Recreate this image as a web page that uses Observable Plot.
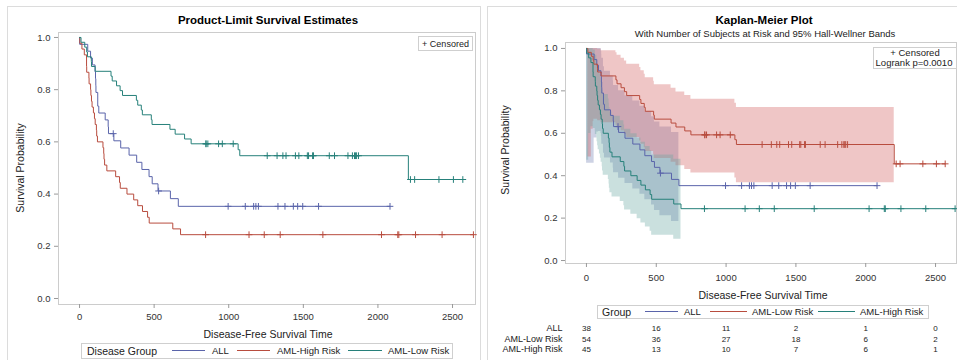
<!DOCTYPE html>
<html><head><meta charset="utf-8">
<script src="https://cdn.jsdelivr.net/npm/d3@7"></script>
<script src="https://cdn.jsdelivr.net/npm/@observablehq/plot@0.6"></script>
<style>
body{margin:0;background:#fff;}
#wrap{position:relative;width:957px;height:360px;overflow:hidden;font-family:Arial,"Liberation Sans",sans-serif;color:#222;}
.abs{position:absolute;white-space:nowrap;line-height:1;}
.c{transform:translate(-50%,-50%);}
.l{transform:translate(0,-50%);}
.box{position:absolute;border:1px solid #cfcfcf;box-sizing:border-box;background:#fff;}
.panel{position:absolute;border:1px solid #dcdcdc;box-sizing:border-box;}
.ln{position:absolute;height:0;}
svg{position:absolute;overflow:visible;}
</style></head>
<body><div id="wrap"></div>
<script>
// ---- data (sashelp.BMT: disease-free survival time, status 1 = event, 0 = censored)
const groupNames = ["ALL", "AML-Low Risk", "AML-High Risk"];
const allTime = [2081,1602,1496,1462,1433,1377,1330,996,226,1199,1111,530,1182,1167,418,383,276,104,609,172,487,662,194,230,526,122,129,74,122,86,466,192,109,55,1,107,110,332];
const allStatus = [0,0,0,0,0,0,0,0,0,0,0,0,0,0,1,1,1,1,1,1,1,1,1,1,1,1,1,1,1,1,1,1,1,1,1,1,1,1];
const lowTime = [2569,2506,2409,2218,1857,1829,1562,1470,1363,1030,860,1258,2246,1870,1799,1709,1674,1568,1527,1324,957,932,847,848,1850,1843,1535,1447,1384,414,2204,1063,481,105,641,390,288,421,79,748,486,48,272,1074,381,10,53,80,35,248,704,211,219,606];
const lowStatus = [0,0,0,0,0,0,0,0,0,0,0,0,0,0,0,0,0,0,0,0,0,0,0,0,0,0,0,0,0,1,1,1,1,1,1,1,1,1,1,1,1,1,1,1,1,1,1,1,1,1,1,1,1,1];
const highTime = [2640,2430,2252,2140,2133,1238,1631,2024,1345,1136,845,422,162,84,100,2,47,242,456,268,318,32,467,47,390,183,105,115,164,93,120,80,677,64,168,74,16,157,625,48,273,63,76,113,363];
const highStatus = [0,0,0,0,0,0,0,0,0,0,0,1,1,1,1,1,1,1,1,1,1,1,1,1,1,1,1,1,1,1,1,1,1,1,1,1,1,1,1,1,1,1,1,1,1];
const leftOrder = ["ALL", "AML-High Risk", "AML-Low Risk"];
const rightOrder = ["ALL", "AML-Low Risk", "AML-High Risk"];
const xTicks = [0, 500, 1000, 1500, 2000, 2500];
const yTicks = [0, 0.2, 0.4, 0.6, 0.8, 1.0];
const atRiskAll = [38, 16, 11, 2, 1, 0];
const atRiskLow = [54, 36, 27, 18, 6, 2];
const atRiskHigh = [45, 13, 10, 7, 6, 1];
const hwCritical = 1.31;

// ---- styles
const lineColors = ["#5a64aa", "#b84c3e", "#26807a"];
const bandColors = ["#6f7eb3", "#d05b5b", "#66a5a0"];
const FONT = 'Arial,"Liberation Sans",sans-serif';

const raw = {
  "ALL": [allTime, allStatus],
  "AML-Low Risk": [lowTime, lowStatus],
  "AML-High Risk": [highTime, highStatus]
};

// Kaplan-Meier estimate with Hall-Wellner (arcsine-sqrt) band
function km(times, status) {
  const n = times.length;
  const ut = Array.from(new Set(times)).sort((a, b) => a - b);
  let S = 1, Y = n, sig = 0;
  const steps = [{t: 0, S: 1}], cens = [], band = [];
  for (const t of ut) {
    let d = 0, c = 0;
    times.forEach((v, i) => { if (v === t) { if (status[i]) d++; else c++; } });
    if (d > 0) {
      S *= (1 - d / Y);
      if (Y > d) sig += d / (Y * (Y - d));
      steps.push({t, S});
      const k = hwCritical * (1 + n * sig) / (2 * Math.sqrt(n)) * Math.sqrt(S / (1 - S));
      const a = Math.asin(Math.sqrt(S));
      band.push({t, lo: Math.sin(Math.max(0, a - k)) ** 2, hi: Math.sin(Math.min(Math.PI / 2, a + k)) ** 2});
    }
    for (let j = 0; j < c; j++) cens.push({t, S});
    Y -= d + c;
  }
  steps.push({t: d3.max(times), S});
  return {steps, cens, band};
}
const est = {};
for (const g of groupNames) est[g] = km(raw[g][0], raw[g][1]);

const wrap = document.getElementById("wrap");
function add(html, x, y, cls, style) {
  const e = document.createElement("div");
  e.className = "abs " + (cls || "");
  e.style.left = x + "px"; e.style.top = y + "px";
  if (style) e.style.cssText += style;
  e.innerHTML = html;
  wrap.appendChild(e);
  return e;
}
function box(x, y, w, h, cls) {
  const e = document.createElement("div");
  e.className = cls || "box";
  e.style.left = x + "px"; e.style.top = y + "px"; e.style.width = w + "px"; e.style.height = h + "px";
  wrap.appendChild(e);
  return e;
}
function lineSample(x1, x2, y, color) {
  const e = document.createElement("div");
  e.className = "ln";
  e.style.left = x1 + "px"; e.style.top = y + "px"; e.style.width = (x2 - x1) + "px";
  e.style.borderTop = "1px solid " + color;
  wrap.appendChild(e);
}

// panel frames
box(7, 6, 474, 400, "panel");
box(487, 6, 480, 400, "panel");

const fmtX = d3.format("d");
const fmtY = d3.format(".1f");

// ---- left plot
{
  const marks = [Plot.frame({stroke: "#cccccc"})];
  leftOrder.forEach((g, i) => {
    marks.push(Plot.line(est[g].steps, {x: "t", y: "S", curve: "step-after", stroke: lineColors[i], strokeWidth: 1}));
    marks.push(Plot.dot(est[g].cens, {x: "t", y: "S", symbol: "plus", r: 2.3, stroke: lineColors[i], strokeWidth: 1}));
  });
  marks.push(Plot.axisX({ticks: xTicks, tickSize: 4, tickPadding: 5, tickFormat: fmtX, stroke: "#999", fill: "#333", label: null}));
  marks.push(Plot.axisY({ticks: yTicks, tickSize: 4, tickPadding: 4, tickFormat: fmtY, stroke: "#999", fill: "#333", label: null}));
  const p = Plot.plot({
    width: 480, height: 340,
    marginLeft: 58, marginRight: 5, marginTop: 32, marginBottom: 36,
    x: {domain: [-141, 2654]},
    y: {domain: [-0.023, 1.019]},
    style: {fontFamily: FONT, fontSize: "9.5px", background: "transparent", overflow: "visible"},
    marks
  });
  p.style.left = "0px"; p.style.top = "0px";
  wrap.appendChild(p);
}

add("Product-Limit Survival Estimates", 268, 21, "c", "font-weight:bold;font-size:11.5px;color:#000;");
add("Survival Probability", 20, 168, "", "font-size:10.5px;transform:translate(-50%,-50%) rotate(-90deg);");
add("Disease-Free Survival Time", 268, 334, "c", "font-size:10.5px;");
box(418, 36, 55, 15);
add("+ Censored", 445.5, 43.5, "c", "font-size:9px;");
box(81, 343, 372, 16);
add("Disease Group", 87, 351, "l", "font-size:10.5px;");
lineSample(172, 205, 350, lineColors[0]); add(leftOrder[0], 212, 351, "l", "font-size:9.5px;");
lineSample(237, 270, 350, lineColors[1]); add(leftOrder[1], 277, 351, "l", "font-size:9.5px;");
lineSample(348, 382, 350, lineColors[2]); add(leftOrder[2], 388, 351, "l", "font-size:9.5px;");

// ---- right plot
{
  const marks = [Plot.frame({stroke: "#cccccc"})];
  rightOrder.forEach((g, i) => {
    marks.push(Plot.areaY(est[g].band, {x: "t", y1: "lo", y2: "hi", curve: "step-after", fill: bandColors[i], fillOpacity: 0.35}));
  });
  rightOrder.forEach((g, i) => {
    marks.push(Plot.line(est[g].steps, {x: "t", y: "S", curve: "step-after", stroke: lineColors[i], strokeWidth: 1}));
    marks.push(Plot.dot(est[g].cens, {x: "t", y: "S", symbol: "plus", r: 2.3, stroke: lineColors[i], strokeWidth: 1}));
  });
  marks.push(Plot.axisX({ticks: xTicks, tickSize: 4, tickPadding: 7, tickFormat: fmtX, stroke: "#999", fill: "#333", label: null}));
  marks.push(Plot.axisY({ticks: yTicks, tickSize: 4, tickPadding: 4, tickFormat: fmtY, stroke: "#999", fill: "#333", label: null}));
  const rows = [[rightOrder[0], atRiskAll, 67], [rightOrder[1], atRiskLow, 78], [rightOrder[2], atRiskHigh, 88]];
  for (const [name, vals, dy] of rows) {
    marks.push(Plot.text(xTicks, {x: d => d, text: (d, i) => String(vals[i]), frameAnchor: "bottom", dy, fontSize: 8, fill: "#222"}));
    marks.push(Plot.text([name], {text: d => d, frameAnchor: "bottom-left", textAnchor: "end", dx: -3, dy, fontSize: 9, fill: "#222"}));
  }
  const p = Plot.plot({
    width: 477, height: 360,
    marginLeft: 85, marginRight: 1, marginTop: 42, marginBottom: 97,
    x: {domain: [-150, 2650]},
    y: {domain: [-0.014, 1.028]},
    style: {fontFamily: FONT, fontSize: "9.5px", background: "transparent", overflow: "visible"},
    marks
  });
  p.style.left = "480px"; p.style.top = "0px";
  wrap.appendChild(p);
}

add("Kaplan-Meier Plot", 764, 21, "c", "font-weight:bold;font-size:11.5px;color:#000;");
add("With Number of Subjects at Risk and 95% Hall-Wellner Bands", 765, 34, "c", "font-size:9.5px;");
add("Survival Probability", 505, 150, "", "font-size:10.5px;transform:translate(-50%,-50%) rotate(-90deg);");
add("Disease-Free Survival Time", 763, 295, "c", "font-size:10.5px;");
box(873, 47, 84, 22);
add("+ Censored", 915, 52.5, "c", "font-size:9.5px;");
add("Logrank p=0.0010", 914, 62.5, "c", "font-size:9.5px;");
box(597, 305, 332, 14);
add("Group", 602, 312, "l", "font-size:10.5px;");
lineSample(645, 678, 311, lineColors[0]); add(rightOrder[0], 684, 312, "l", "font-size:9.5px;");
lineSample(710, 747, 311, lineColors[1]); add(rightOrder[1], 752, 312, "l", "font-size:9.5px;");
lineSample(818, 855, 311, lineColors[2]); add(rightOrder[2], 860, 312, "l", "font-size:9.5px;");
</script>
</body></html>
